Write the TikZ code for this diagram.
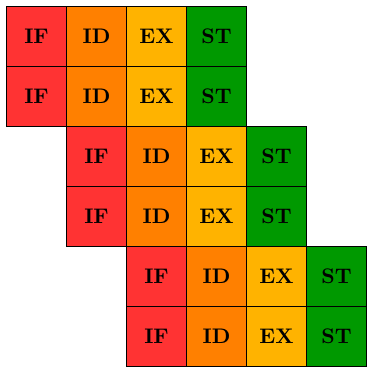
\documentclass[tikz,border=0pt]{standalone}
\usepackage{xcolor}
\definecolor{cIF}{RGB}{255,51,51}
\definecolor{cID}{RGB}{255,128,0}
\definecolor{cEX}{RGB}{255,179,0}
\definecolor{cST}{RGB}{0,153,0}
\begin{document}
\begin{tikzpicture}[x=1cm,y=1cm,
  cell/.style={draw=black, line width=0.5pt, minimum width=1cm, minimum height=1cm, inner sep=0pt, anchor=north west, font=\bfseries}]
\useasboundingbox (0,0) rectangle (6.117,6.117);
\foreach \r in {0,...,5}{
  \pgfmathtruncatemacro{\p}{int(\r/2)}
  \foreach \s [count=\k from 0] in {IF,ID,EX,ST}{
    \node[cell, fill=c\s] (c-\r-\k) at ({0.1+\p+\k}, {6.025-\r}) {\s};
  }
}
\end{tikzpicture}
\end{document}
